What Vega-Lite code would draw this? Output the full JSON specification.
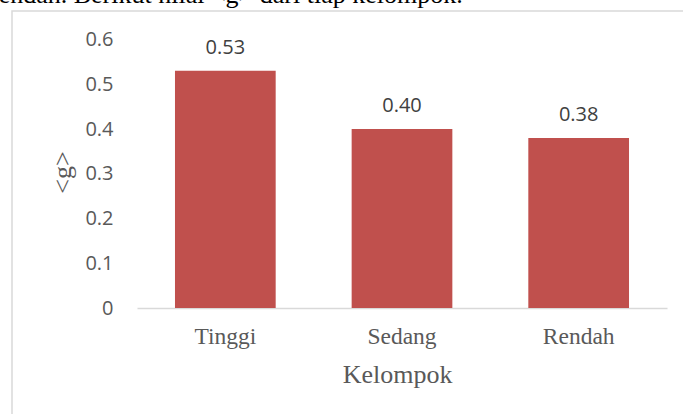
{
  "$schema": "https://vega.github.io/schema/vega-lite/v6.json",
  "autosize": {"type": "none"},
  "padding": {"left": 12, "top": 11, "right": -10, "bottom": -10},
  "width": 681,
  "height": 413,
  "background": "white",
  "config": {
    "view": {"stroke": "#d9d9d9", "strokeWidth": 1.5}
  },
  "title": {
    "text": "rendah. Berikut nilai <g> dari tiap kelompok.",
    "font": "Liberation Serif",
    "fontSize": 26,
    "fontWeight": "normal",
    "color": "#000000",
    "anchor": "start",
    "frame": "group",
    "baseline": "alphabetic",
    "offset": 0,
    "dx": -22,
    "dy": 18
  },
  "data": {
    "values": [
      {"Kelompok": "Tinggi", "g": 0.53},
      {"Kelompok": "Sedang", "g": 0.40},
      {"Kelompok": "Rendah", "g": 0.38}
    ]
  },
  "encoding": {
    "x": {
      "field": "Kelompok",
      "type": "nominal",
      "sort": null,
      "scale": {"range": [125, 655], "paddingInner": 0.43, "paddingOuter": 0.215},
      "axis": {
        "orient": "bottom",
        "offset": -116,
        "title": "Kelompok",
        "labelAngle": 0,
        "labelFont": "Liberation Serif",
        "labelFontSize": 23.5,
        "labelColor": "#595959",
        "labelBaseline": "alphabetic",
        "labelPadding": 35,
        "ticks": false,
        "tickSize": 0,
        "grid": false,
        "domainColor": "#d9d9d9",
        "domainWidth": 1.5,
        "titleFont": "Liberation Serif",
        "titleFontSize": 26,
        "titleFontWeight": "normal",
        "titleColor": "#595959",
        "titleBaseline": "alphabetic",
        "titleAlign": "center",
        "titleX": 385,
        "titleY": 74.7
      }
    },
    "y": {
      "field": "g",
      "type": "quantitative",
      "scale": {"domain": [0, 0.6], "range": [297, 28.5], "nice": false, "zero": true},
      "axis": {
        "orient": "left",
        "offset": -125,
        "title": "<g>",
        "values": [0, 0.1, 0.2, 0.3, 0.4, 0.5, 0.6],
        "labelExpr": "datum.value == 0 ? '0' : format(datum.value, '.1f')",
        "labelFont": "Open Sans",
        "labelFontSize": 20,
        "labelColor": "#595959",
        "labelPadding": 24,
        "ticks": false,
        "tickSize": 0,
        "domain": false,
        "grid": false,
        "titleFont": "Liberation Serif",
        "titleFontSize": 26,
        "titleFontWeight": "normal",
        "titleColor": "#595959",
        "titleAngle": -90,
        "titleBaseline": "alphabetic",
        "titleAlign": "center",
        "titleX": -67,
        "titleY": 161
      }
    }
  },
  "layer": [
    {"mark": {"type": "bar", "color": "#C0504D"}},
    {
      "mark": {
        "type": "text",
        "font": "Open Sans",
        "fontSize": 20,
        "color": "#404040",
        "baseline": "alphabetic",
        "dy": -17.3
      },
      "encoding": {"text": {"field": "g", "type": "quantitative", "format": ".2f"}}
    }
  ]
}
